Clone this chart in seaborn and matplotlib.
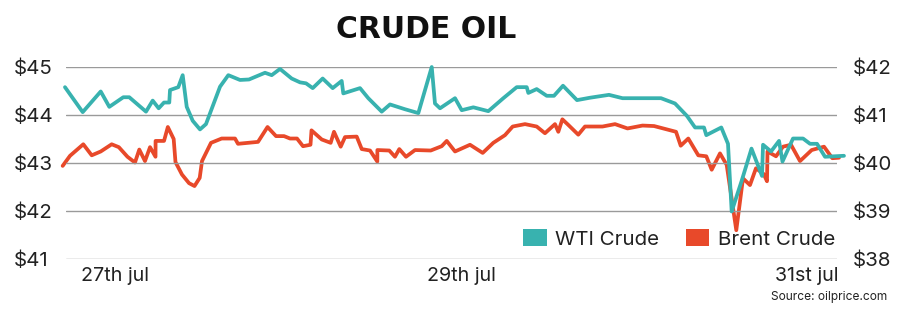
import matplotlib
matplotlib.use("Agg")
import matplotlib.pyplot as plt
import seaborn as sns
import pandas as pd
from matplotlib.patches import Patch

# ---- data (hours relative to 27 Jul 00:00) ----
wti_hours = [-6.94, -4.48, -1.98, -0.79, 1.15, 1.98, 4.30, 5.23, 6.06, 6.80, 7.53, 7.63,
             8.78, 9.39, 9.95, 10.78, 11.79, 12.62, 14.57, 15.72, 17.34, 18.59, 20.81,
             21.74, 22.89, 24.51, 25.67, 26.50, 27.43, 28.81, 30.20, 31.45, 31.67, 33.99,
             35.14, 37.00, 38.15, 40.23, 42.08, 43.94, 44.39, 45.09, 47.17, 48.10, 49.71,
             51.79, 53.87, 55.73, 57.12, 57.34, 58.50, 59.89, 60.90, 62.15, 64.09, 65.90,
             68.53, 70.41, 75.75, 77.69, 79.35, 80.47, 81.71, 82.03, 84.11, 85.04, 85.55,
             86.94, 88.30, 89.76, 89.90, 91.01, 92.12, 92.60, 94.06, 95.45, 96.42, 97.39,
             98.50, 101.13]
wti_price = [44.58, 44.06, 44.49, 44.17, 44.37, 44.37, 44.07, 44.30, 44.14, 44.26, 44.26, 44.52,
             44.58, 44.83, 44.17, 43.88, 43.70, 43.81, 44.59, 44.83, 44.73, 44.74, 44.88,
             44.83, 44.96, 44.76, 44.68, 44.66, 44.56, 44.76, 44.56, 44.71, 44.45, 44.56,
             44.35, 44.07, 44.22, 44.12, 44.04, 45.00, 44.24, 44.14, 44.35, 44.10, 44.16,
             44.08, 44.35, 44.58, 44.58, 44.46, 44.54, 44.40, 44.40, 44.61, 44.31, 44.36,
             44.42, 44.35, 44.35, 44.24, 43.98, 43.74, 43.74, 43.58, 43.74, 43.40, 41.99,
             42.63, 43.30, 42.73, 43.38, 43.24, 43.46, 43.03, 43.51, 43.51, 43.40, 43.40,
             43.13, 43.15]

brent_hours = [-7.26, -6.24, -4.40, -3.23, -1.98, -0.46, 0.53, 1.73, 2.77, 3.37, 4.16, 4.86,
               5.62, 5.63, 6.80, 7.33, 8.14, 8.39, 9.29, 10.27, 11.03, 11.75, 12.07, 13.32,
               14.80, 16.65, 17.06, 19.84, 21.16, 22.34, 23.45, 24.28, 25.25, 26.08, 27.12,
               27.26, 28.68, 29.92, 30.38, 31.31, 31.91, 33.53, 34.23, 35.38, 36.39, 36.40,
               38.05, 38.84, 39.44, 40.37, 41.62, 43.80, 45.32, 46.02, 47.17, 49.25, 51.01,
               52.48, 54.10, 55.17, 56.88, 58.50, 59.65, 61.04, 61.50, 62.06, 62.84, 64.27,
               65.20, 67.63, 69.37, 71.10, 73.18, 74.78, 77.83, 78.48, 79.53, 80.92, 82.03,
               82.78, 83.93, 84.86, 86.19, 87.12, 88.09, 88.92, 89.99, 90.45, 90.52, 91.70,
               92.67, 93.78, 95.03, 96.65, 98.36, 99.51, 100.44]
brent_price = [39.94, 40.15, 40.39, 40.16, 40.24, 40.39, 40.33, 40.13, 40.01, 40.28, 40.04, 40.33,
               40.13, 40.46, 40.46, 40.75, 40.50, 40.02, 39.76, 39.58, 39.52, 39.69, 40.04, 40.42,
               40.51, 40.51, 40.40, 40.44, 40.75, 40.56, 40.56, 40.51, 40.51, 40.35, 40.38,
               40.68, 40.49, 40.42, 40.65, 40.34, 40.54, 40.55, 40.29, 40.26, 40.03, 40.27,
               40.26, 40.13, 40.29, 40.13, 40.27, 40.26, 40.35, 40.46, 40.24, 40.38, 40.21,
               40.42, 40.58, 40.76, 40.81, 40.76, 40.62, 40.81, 40.65, 40.91, 40.80, 40.59,
               40.76, 40.76, 40.81, 40.72, 40.78, 40.77, 40.65, 40.36, 40.51, 40.16, 40.14,
               39.86, 40.20, 39.96, 38.60, 39.68, 39.54, 39.89, 39.77, 39.62, 40.24, 40.14,
               40.34, 40.38, 40.04, 40.27, 40.34, 40.10, 40.11]

x_tick_pos = [0, 48, 96]
x_tick_labels = ["27th jul", "29th jul", "31st jul"]
left_ticks = [41, 42, 43, 44, 45]
right_ticks = [38, 39, 40, 41, 42]
series_names = ["WTI Crude", "Brent Crude"]

# ---- style ----
TEAL = "#38B2AF"
RED = "#E8492A"
FONT = ["Inter", "DejaVu Sans"]

sns.set_theme(style="white")
plt.rcParams["font.family"] = FONT

fig = plt.figure(figsize=(9, 3.11), dpi=100)
W, H = 900, 311
ax = fig.add_axes([66 / W, 1 - 259 / H, (837 - 66) / W, (259 - 67) / H])
ax2 = ax.twinx()

wti_df = pd.DataFrame({"hours": wti_hours, "price": wti_price})
brent_df = pd.DataFrame({"hours": brent_hours, "price": brent_price})

sns.lineplot(data=wti_df, x="hours", y="price", ax=ax, color=TEAL, linewidth=2.7,
             sort=False, estimator=None, clip_on=False, zorder=3)
sns.lineplot(data=brent_df, x="hours", y="price", ax=ax2, color=RED, linewidth=2.7,
             sort=False, estimator=None, clip_on=False, zorder=2)

# x scale: px -> hours  (115 px = 0 h, 173 px per 24 h)
def px2h(px):
    return (px - 115) * 24 / 173

ax.set_xlim(px2h(66), px2h(837))
ax.set_ylim(41, 45)
ax2.set_ylim(38, 42)

ax.set_yticks(left_ticks)
ax.set_yticklabels([f"${v}" for v in left_ticks])
ax2.set_yticks(right_ticks)
ax2.set_yticklabels([f"${v}" for v in right_ticks])
ax.set_xticks(x_tick_pos)
ax.set_xticklabels(x_tick_labels)

ax.grid(axis="y", color="#9a9a9a", linewidth=1.0)
ax.grid(axis="x", visible=False)
ax2.grid(False)
for a in (ax, ax2):
    for s in a.spines.values():
        s.set_visible(False)
    a.set_xlabel("")
    a.set_ylabel("")

TS = 14.8
ax.tick_params(axis="y", length=0, labelsize=TS, colors="#222222", pad=52 * 0.72)
for lab in ax.get_yticklabels():
    lab.set_horizontalalignment("left")
ax2.tick_params(axis="y", length=0, labelsize=TS, colors="#222222", pad=16 * 0.72)
ax.tick_params(axis="x", length=0, labelsize=14.2, colors="#222222", pad=6)

# put the WTI line above the Brent axis
ax.set_zorder(ax2.get_zorder() + 1)
ax.patch.set_visible(False)

handles = [Patch(facecolor=TEAL, edgecolor="none"), Patch(facecolor=RED, edgecolor="none")]
fig.legend(handles, series_names, loc="center right",
           bbox_to_anchor=(835 / W, 1 - 239 / H), bbox_transform=fig.transFigure,
           ncol=2, frameon=False, fontsize=14.8, handlelength=1.15, handleheight=0.85,
           handletextpad=0.4, columnspacing=1.3, borderpad=0, borderaxespad=0,
           labelcolor="#222222")

fig.text(426 / W, 1 - 29 / H, "CRUDE OIL", ha="center", va="center",
         fontsize=21.5, fontweight="bold", color="#111111", family="DejaVu Sans")
fig.text(887 / W, 1 - 297 / H, "Source: oilprice.com", ha="right", va="center",
         fontsize=8.6, color="#222222")

fig.savefig("out.png", dpi=100)
